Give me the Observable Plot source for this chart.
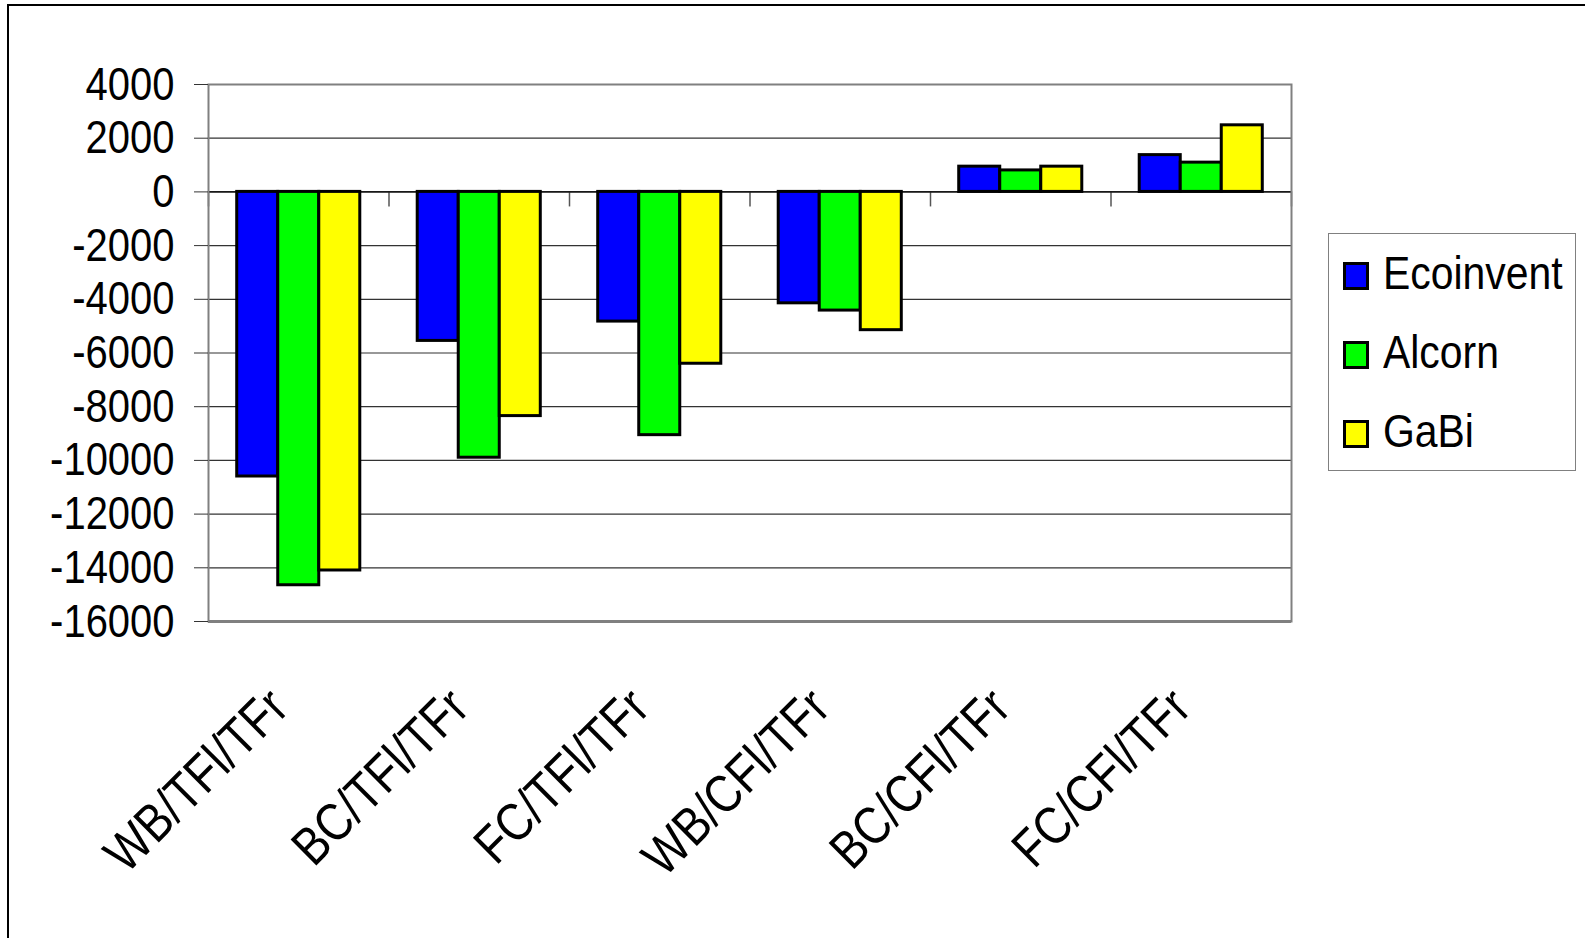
<!DOCTYPE html>
<html>
<head>
<meta charset="utf-8">
<script src="https://cdn.jsdelivr.net/npm/d3@7"></script>
<script src="https://cdn.jsdelivr.net/npm/@observablehq/plot@0.6"></script>
<style>
  html, body { margin: 0; padding: 0; background: #fff; }
  #wrap { position: relative; width: 1585px; height: 938px; overflow: hidden; background: #fff;
          font-family: "Liberation Sans", Arial, sans-serif; }
  #border { position: absolute; left: 7px; top: 4px; width: 1700px; height: 1100px;
            border-left: 2px solid #000; border-top: 2px solid #000; }
  #chart { position: absolute; left: 0; top: 0; }
  #legend { position: absolute; left: 1328px; top: 233px; width: 246px; height: 236px;
            border: 1px solid #808080; background: #fff; }
  .item { position: absolute; left: 0; width: 240px; height: 47px; line-height: 47px; font-size: 47px; color: #000; }
  .sw { position: absolute; left: 14px; width: 20px; height: 22px; border: 3px solid #000; }
  .lab { position: absolute; left: 54px; white-space: nowrap; transform: scaleX(0.87); transform-origin: 0 50%; }
</style>
</head>
<body>
<div id="wrap">
  <div id="border"></div>
  <div id="chart"></div>
  <div id="legend"></div>
</div>
<script>
// ---- data ----
const categories = ["WB/TFl/TFr", "BC/TFl/TFr", "FC/TFl/TFr", "WB/CFl/TFr", "BC/CFl/TFr", "FC/CFl/TFr"];
const seriesNames = ["Ecoinvent", "Alcorn", "GaBi"];
const ecoinvent = [-10600, -5550, -4830, -4150, 940, 1370];
const alcorn    = [-14650, -9900, -9060, -4420, 800, 1090];
const gabi      = [-14100, -8350, -6400, -5150, 940, 2480];
const seriesColors = ["#0000ff", "#00ff00", "#ffff00"];
const yTicks = [4000, 2000, 0, -2000, -4000, -6000, -8000, -10000, -12000, -14000, -16000];

// ---- build table ----
const FONT = '"Liberation Sans", Arial, sans-serif';
const seriesValues = [ecoinvent, alcorn, gabi];
const gapWidth = 1.4; // gap between clusters, in bar widths
const barW = 1 / (seriesNames.length + gapWidth);
const rows = [];
categories.forEach((c, ci) => {
  seriesNames.forEach((s, si) => {
    rows.push({
      category: c, series: s, value: seriesValues[si][ci],
      x1: ci + barW * (gapWidth / 2 + si),
      x2: ci + barW * (gapWidth / 2 + si + 1)
    });
  });
});
const catBounds = d3.range(categories.length + 1);
const catCenters = categories.map((_, i) => i + 0.5);

const chart = Plot.plot({
  width: 1585,
  height: 938,
  marginLeft: 208,
  marginRight: 294,
  marginTop: 84,
  marginBottom: 317,
  style: { fontFamily: FONT, background: "transparent", color: "#000" },
  x: { domain: [0, categories.length], axis: null },
  y: { domain: [-16000, 4000] },
  color: { domain: seriesNames, range: seriesColors },
  marks: [
    Plot.gridY(yTicks, { stroke: "#333", strokeOpacity: 1, strokeWidth: 1.2 }),
    Plot.ruleX(catBounds, { y1: 0, y2: -560, stroke: "#555", strokeWidth: 1.5 }),
    Plot.ruleY([0], { stroke: "#000", strokeWidth: 1.2 }),
    Plot.rectY(rows, { x1: "x1", x2: "x2", y1: 0, y2: "value", fill: "series", stroke: "#000", strokeWidth: 3 }),
    Plot.frame({ stroke: "#808080", strokeWidth: 2 }),
    Plot.ruleY([-16000], { stroke: "#808080", strokeWidth: 3 }),
    Plot.axisY({ ticks: yTicks, tickFormat: d => String(d), tickSize: 14, tickPadding: 20,
                 fontSize: 47, stroke: "#333", label: null }),
    Plot.text(categories, { x: (d, i) => catCenters[i], frameAnchor: "bottom", rotate: -45,
                            textAnchor: "end", lineAnchor: "bottom", dx: -8, dy: 89, fontSize: 53, fill: "#000" })
  ]
});
document.getElementById("chart").appendChild(chart);

// condense the labels horizontally, like the original's narrow type
chart.querySelectorAll("text").forEach(t => {
  const w = t.getComputedTextLength();
  if (w > 0) {
    t.setAttribute("textLength", (w * 0.85).toFixed(1));
    t.setAttribute("lengthAdjust", "spacingAndGlyphs");
  }
});

// ---- legend ----
const legend = document.getElementById("legend");
seriesNames.forEach((s, i) => {
  const item = document.createElement("div");
  item.className = "item";
  item.style.top = (15 + i * 79) + "px";
  const sw = document.createElement("div");
  sw.className = "sw";
  sw.style.top = "13px";
  sw.style.background = seriesColors[i];
  const lab = document.createElement("span");
  lab.className = "lab";
  lab.textContent = s;
  item.appendChild(sw);
  item.appendChild(lab);
  legend.appendChild(item);
});
</script>
</body>
</html>
